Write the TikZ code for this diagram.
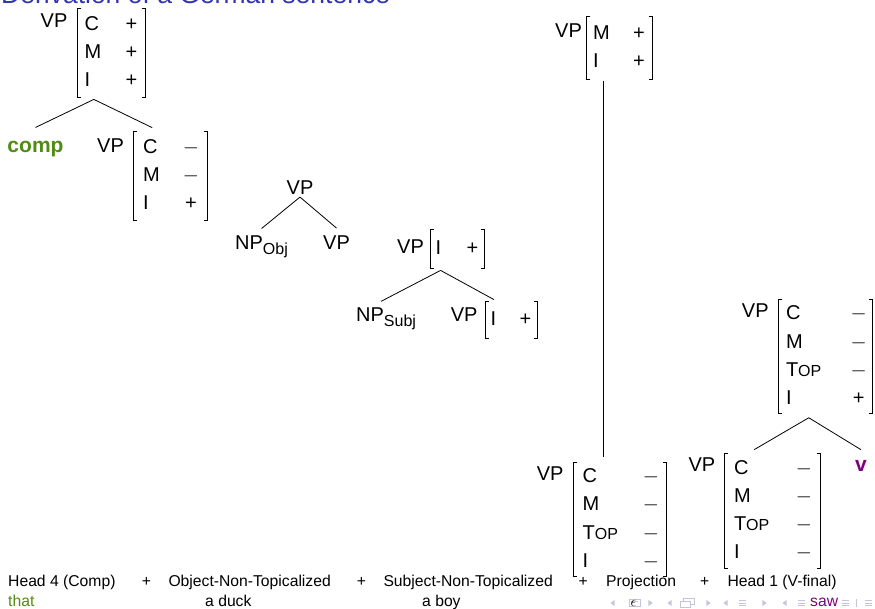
\documentclass[tikz,border=0pt]{standalone}
\usepackage{fontspec}
\setmainfont{Liberation Sans}
\usetikzlibrary{fit}
\definecolor{titleblue}{RGB}{51,51,179}
\definecolor{compgreen}{RGB}{80,140,20}
\definecolor{vpurple}{RGB}{128,0,128}
\definecolor{navgray}{RGB}{196,196,222}
\newcommand\avmfont{\fontsize{20}{28.3}\selectfont}
\newcommand\pl{\makebox[14pt]{+}}
\newcommand\mi{\makebox[14pt]{$-$}}
\newcommand\Top{T{\fontsize{16}{16}\selectfont OP}}
\newcommand\avmtab[2]{\begin{tabular}{@{}p{#1}@{}l@{}}#2\end{tabular}}
\newcommand\brackets[1]{%
  \draw[brk] ([xshift=3.5pt]#1.north west) -- (#1.north west) -- (#1.south west) -- ([xshift=3.5pt]#1.south west);
  \draw[brk] ([xshift=-3.5pt]#1.north east) -- (#1.north east) -- (#1.south east) -- ([xshift=-3.5pt]#1.south east);}
\newcommand\navL[1]{\fill[navgray] (#1+2.6,600) -- (#1-1.6,603) -- (#1+2.6,606) -- cycle;}
\newcommand\navR[1]{\fill[navgray] (#1-2.6,600) -- (#1+1.6,603) -- (#1-2.6,606) -- cycle;}
\newcommand\navE[1]{\draw[navgray,line width=0.9pt] (#1,600.5) -- ++(7,0) (#1,603) -- ++(7,0) (#1,605.5) -- ++(7,0);}
\begin{document}
\begin{tikzpicture}[x=1pt,y=-1pt,
  lab/.style={inner sep=0pt,font=\avmfont},
  avm/.style={inner sep=0pt,font=\avmfont},
  brk/.style={line width=0.8pt},
  tree/.style={line width=0.8pt},
  bot/.style={inner sep=0pt,anchor=base west,font=\fontsize{15.7}{18}\selectfont},
  tfit/.style={inner sep=0pt}]
\useasboundingbox (0,0) rectangle (875,609);
% title (cut off at the top, as in the reference)
\node[anchor=base west,inner sep=0pt,font=\fontsize{26.5}{30}\selectfont,text=titleblue] (title) at (1,3.6) {Derivation of a German sentence};

% ---- tree 1
\node[lab,anchor=west] (vp1) at (40.5,21) {VP};
\node[avm,minimum width=67pt,minimum height=88pt] (m1) at (111.5,53) {\avmtab{40pt}{C & \pl\\ M & \pl\\ I & \pl}};
\brackets{m1}
\node[tfit,fit=(vp1)(m1)] (t1) {};
\node[inner sep=0pt,anchor=base,font=\fontsize{21}{24}\selectfont\bfseries,text=compgreen] (comp) at (35.5,153) {comp};
\node[lab,anchor=west] (vp2) at (97,146) {VP};
\node[avm,minimum width=73pt,minimum height=88pt] (m2) at (170.5,176) {\avmtab{40.7pt}{C & \mi\\ M & \mi\\ I & \pl}};
\brackets{m2}
\node[tfit,fit=(vp2)(m2)] (t2) {};
\draw[tree] ([xshift=1pt,yshift=-2pt]t1.south) -- ([yshift=14pt]comp.north);
\draw[tree] ([xshift=1pt,yshift=-2pt]t1.south) -- ([yshift=4pt]t2.north);

% ---- tree 2
\node[lab] (vp3) at (300,188) {VP};
\node[inner sep=0pt,anchor=base west,font=\avmfont] (npobj) at (235,250) {NP\raisebox{-5pt}{\fontsize{16}{16}\selectfont Obj}};
\node[lab,anchor=west] (vp3b) at (323,242.5) {VP};
\draw[tree] ([yshift=-2pt]vp3.south) -- ([yshift=7.5pt]npobj.north);
\draw[tree] ([yshift=-2pt]vp3.south) -- ([yshift=7.3pt]vp3b.north);

% ---- tree 3
\node[lab,anchor=west] (vp4) at (397,246.7) {VP};
\node[avm,minimum width=53pt,minimum height=38pt] (m3) at (457.5,249) {\avmtab{30pt}{I & \pl}};
\brackets{m3}
\node[tfit,fit=(vp4)(m3)] (t4) {};
\node[inner sep=0pt,anchor=base west,font=\avmfont] (npsubj) at (356,321.7) {NP\raisebox{-5pt}{\fontsize{16}{16}\selectfont Subj}};
\node[lab,anchor=west] (vp5) at (450.7,315) {VP};
\node[avm,minimum width=51pt,minimum height=36pt] (m4) at (511.5,320) {\avmtab{28pt}{I & \pl}};
\brackets{m4}
\node[tfit,fit=(vp5)(m4)] (t5) {};
\draw[tree] ([yshift=-2pt]t4.south) -- ([xshift=-5pt,yshift=6.4pt]npsubj.north);
\draw[tree] ([yshift=-2pt]t4.south) -- ([yshift=2pt]t5.north);

% ---- tree 4 (projection)
\node[lab,anchor=west] (vp6) at (555,31) {VP};
\node[avm,minimum width=65pt,minimum height=63pt] (m5) at (619.5,47.7) {\avmtab{39pt}{M & \pl\\ I & \pl}};
\brackets{m5}
\node[tfit,fit=(vp6)(m5)] (t6) {};
\node[lab,anchor=west] (vp7) at (536.7,473.7) {VP};
\node[avm,minimum width=92.7pt,minimum height=113.3pt] (m6) at (620.3,519.3) {\avmtab{61.3pt}{C & \mi\\ M & \mi\\ \Top & \mi\\ I & \mi}};
\brackets{m6}
\node[tfit,fit=(vp7)(m6)] (t7) {};
\draw[tree,shorten >=5.7pt] ([yshift=-1pt]t6.south) -- (t6.south |- t7.north);

% ---- tree 5 (head 1)
\node[lab,anchor=west] (vp9) at (741.7,310.7) {VP};
\node[avm,minimum width=93.7pt,minimum height=113.3pt] (m8) at (825.8,356.7) {\avmtab{65.6pt}{C & \mi\\ M & \mi\\ \Top & \mi\\ I & \pl}};
\brackets{m8}
\node[tfit,fit=(vp9)(m8)] (t9) {};
\node[lab,anchor=west] (vp8) at (688.3,465) {VP};
\node[avm,minimum width=95pt,minimum height=115pt] (m7) at (772.5,510.8) {\avmtab{63pt}{C & \mi\\ M & \mi\\ \Top & \mi\\ I & \mi}};
\brackets{m7}
\node[tfit,fit=(vp8)(m7)] (t8) {};
\node[inner sep=0pt,anchor=base,font=\fontsize{21}{24}\selectfont\bfseries,text=vpurple] (vnode) at (861,471.7) {v};
\draw[tree] ([xshift=1.5pt,yshift=-4pt]t9.south) -- ([yshift=3.3pt]t8.north);
\draw[tree] ([xshift=1.5pt,yshift=-4pt]t9.south) -- ([yshift=10.7pt]vnode.north);

% ---- navigation symbols (beamer)
\navL{612} \navR{651} \navL{669} \navR{709} \navL{725} \navR{765} \navL{784}
\draw[navgray,line width=0.8pt] (629,599) rectangle (640,606) (631,601.5) -- (638,601.5);
\draw[navgray,line width=0.8pt] (680,601) rectangle (690,607) (683,601) -- (683,598.5) -- (694,598.5) -- (694,604) -- (690,604);
\navE{739} \navE{798} \navE{842}
\draw[navgray,line width=0.8pt] (856,599) -- (856,607);
\navE{865}

% ---- bottom labels
\node[bot] (h4) at (8,586.7) {Head 4 (Comp)};
\node[bot] (p1) at (141.7,586.7) {+};
\node[bot] (obj) at (168.3,586.7) {Object-Non-Topicalized};
\node[bot] (p2) at (356.7,586.7) {+};
\node[bot] (subj) at (383.3,586.7) {Subject-Non-Topicalized};
\node[bot] (p3) at (578.3,586.7) {+};
\node[bot] (proj) at (606,586.7) {Projection};
\node[bot] (p4) at (700,586.7) {+};
\node[bot] (h1) at (727.3,586.7) {Head 1 (V-final)};
\node[bot,text=compgreen] (that) at (8,606) {that};
\node[bot] (duck) at (205,606) {a duck};
\node[bot] (boy) at (422,606) {a boy};
\node[bot] (eps) at (630.5,606) {$\epsilon$};
\node[bot,text=vpurple] (saw) at (810,606) {saw};
\end{tikzpicture}
\end{document}
